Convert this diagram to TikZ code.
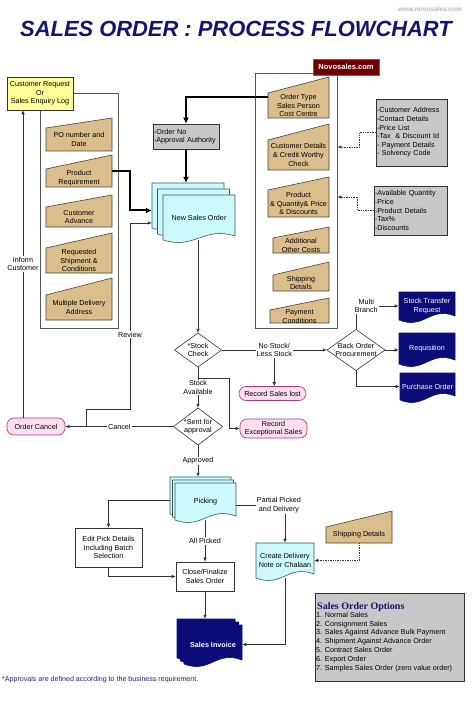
\documentclass[tikz,border=0pt]{standalone}
\usepackage{fontspec}
\setmainfont{Liberation Sans}
\newfontfamily\optfont{Liberation Serif}
\usetikzlibrary{arrows.meta,calc}

\definecolor{titlec}{HTML}{14146E}
\definecolor{linec}{HTML}{333333}
\definecolor{grpline}{HTML}{555555}
\definecolor{trapc}{HTML}{DCBE8C}
\definecolor{trapline}{HTML}{4A4238}
\definecolor{cyanc}{HTML}{CCFAFA}
\definecolor{cyanline}{HTML}{3A5560}
\definecolor{navyc}{HTML}{0C0C78}
\definecolor{pinkc}{HTML}{FFDDF0}
\definecolor{pinkline}{HTML}{A0406A}
\definecolor{grayc}{HTML}{C8C8C8}
\definecolor{yellc}{HTML}{FFFF99}
\definecolor{novoc}{HTML}{6E0000}
\definecolor{notec}{HTML}{202070}

\tikzset{
  txt/.style={font=\fontsize{7.2}{8.6}\selectfont, align=center, inner sep=1pt, text=black},
  shapebox/.style 2 args={minimum width={#1}, minimum height={#2}, inner sep=0pt},
  flowbox/.style={txt, draw=linec, line width=0.6pt},
  grp/.style={draw=grpline, line width=0.8pt, fill=white},
  mantrap/.style={fill=trapc, draw=trapline, line width=0.6pt},
  dmd/.style={fill=white, draw=linec, line width=0.6pt},
  pill/.style={txt, draw=pinkline, fill=pinkc, rounded corners=7pt, line width=0.6pt},
  cyandoc/.style={fill=cyanc, draw=cyanline, line width=0.6pt},
  navydoc/.style={fill=navyc, draw=navyc, line width=0.6pt, text=white},
  lbl/.style={txt, fill=white},
  arr/.style={draw=linec, line width=0.6pt, -{Latex[length=4pt,width=3.5pt]}},
  tarr/.style={draw=black, line width=2pt, -{Latex[length=6pt,width=6pt]}},
  darr/.style={draw=linec, densely dotted, line width=0.7pt, -{Latex[length=4pt,width=3.5pt]}}
}

\newcommand\docpath[5]{\filldraw[#1] ({#2},{#3}) -- ({#4},{#3}) -- ({#4},{#5-4}) .. controls ({#4-0.45*(#4-(#2))},{#5-14}) and ({#2+0.45*(#4-(#2))},{#5+10}) .. ({#2},{#5}) -- cycle;}
\newcommand\docnode[7]{%
  \docpath{#6}{#2}{#3}{#4}{#5}
  \node[txt, #6, draw=none, fill=none, shapebox={#4-(#2)}{#5-(#3)}] (#1) at ({(#2+#4)/2},{(#3+#5)/2}) {#7};}
\newcommand\mdoc[9]{%
  \docpath{#8}{(#2-2*#6)}{(#3-2*#7)}{(#4-2*#6)}{(#5-2*#7)}
  \docpath{#8}{(#2-#6)}{(#3-#7)}{(#4-#6)}{(#5-#7)}
  \docpath{#8}{#2}{#3}{#4}{#5}
  \node[shapebox={#4-(#2)}{#5-(#3)}] (#1b) at ({(#2+#4)/2-2*#6},{(#3+#5)/2-2*#7}) {};
  \node[txt, #8, draw=none, fill=none, shapebox={#4-(#2)}{#5-(#3)}] (#1) at ({(#2+#4)/2},{(#3+#5)/2}) {#9};}
\newcommand\manin[7]{%
  \filldraw[mantrap] ({#2},{#5}) -- ({#3},{#4}) -- ({#3},{#6}) -- ({#2},{#6}) -- cycle;
  \node[shapebox={#3-(#2)}{#6-(#4)}] (#1) at ({(#2+#3)/2},{(#4+#6)/2}) {};
  \node[txt] (#1t) at ({(#2+#3)/2},{(#5+#6)/2}) {#7};}
\newcommand\decide[6]{%
  \filldraw[dmd] ({#2-#4/2},{#3}) -- ({#2},{#3-#5/2}) -- ({#2+#4/2},{#3}) -- ({#2},{#3+#5/2}) -- cycle;
  \node[txt, shapebox={#4}{#5}] (#1) at ({#2},{#3}) {#6};}

\begin{document}
\begin{tikzpicture}[x=1pt,y=-1pt]
\useasboundingbox (0,0) rectangle (474,711);
\fill[white] (0,0) rectangle (474,711);

\node[anchor=base, font=\fontsize{21.9}{26}\selectfont\bfseries\itshape, text=titlec, inner sep=0pt] (title) at (236,37) {SALES ORDER : PROCESS FLOWCHART};
\node[font=\fontsize{6.5}{7}\selectfont\bfseries\itshape, text=gray!55, inner sep=0pt] (www) at (430,9) {www.novosales.com};

\node[grp, shapebox={78}{235}] (lgrp) at (79,210.5) {};
\node[grp, shapebox={82}{255}] (rgrp) at (296,200.5) {};
\node[flowbox, fill=yellc, shapebox={66}{33}] (custreq) at (40,93.5) {Customer Request\\Or\\Sales Enquiry Log};
\node[txt, fill=novoc, draw=black!60, text=white, font=\fontsize{7.5}{9}\selectfont\bfseries, shapebox={66}{16}] (novo) at (346,67) {Novosales.com};

\manin{po}{46}{112}{118}{128}{151}{PO number and\\Date}
\manin{prodreq}{46}{112}{155}{169}{187}{Product\\Requirement}
\manin{custadv}{46}{112}{195}{207}{227}{Customer\\Advance}
\manin{reqship}{46}{112}{233}{248}{273}{Requested\\Shipment \&\\Conditions}
\manin{multidel}{46}{112}{278}{295}{320}{Multiple Delivery\\Address}

\manin{ordtype}{268}{329}{77}{93}{118}{Order Type\\Sales Person\\Cost Centre}
\manin{custdet}{268}{329}{124}{140}{170}{Customer Details\\\& Credit Worthy\\Check}
\manin{prodqty}{268}{329}{177}{190}{217}{Product\\\& Quantity\& Price\\\& Discounts}
\manin{addcost}{273}{329}{227}{238}{253}{Additional\\Other Costs}
\manin{shipdet}{273}{329}{262}{275}{291}{Shipping\\Details}
\manin{paycond}{270}{329}{298}{310}{323}{Payment\\Conditions}
\manin{shipd}{326}{392}{511}{527}{543}{Shipping Details}

\node[flowbox, fill=grayc, shapebox={66}{25}, align=left, text width=64pt] (ordno) at (186,136.5) {-Order No\\-Approval Authority};
\node[flowbox, fill=grayc, shapebox={71}{67}, align=left, text width=69pt] (info1) at (411.5,132.5) {-Customer Address\\-Contact Details\\-Price List\\-Tax \ \& Discount Id\\- Payment Details\\- Solvency Code};
\node[flowbox, fill=grayc, shapebox={73}{49}, align=left, text width=71pt] (info2) at (410.5,210.5) {-Available Quantity\\-Price\\-Product Details\\-Tax\%\\-Discounts};

\mdoc{nso}{163}{195}{235}{240}{5.5}{6}{cyandoc}{New Sales Order}
\mdoc{pick}{175}{483}{236}{520}{2.5}{3}{cyandoc}{Picking}
\mdoc{sinv}{184}{625}{242}{664}{3.5}{3}{navydoc}{\bfseries Sales Invoice}
\docnode{dlv}{256}{543}{314}{578}{cyandoc}{Create Delivery\\Note or Chalaan}
\docnode{stocktr}{399}{292}{455}{320}{navydoc}{Stock Transfer\\Request}
\docnode{requis}{399}{333}{455}{364}{navydoc}{Requisition}
\docnode{purch}{400}{373}{455}{400}{navydoc}{Purchase Order}

\decide{stock}{198}{350}{47}{34}{*Stock\\Check}
\decide{sent}{198}{426.5}{49}{37}{*Sent for\\approval}
\decide{back}{356}{350}{58}{41}{Back Order\\Procurement}

\node[pill, shapebox={58}{17}] (ocancel) at (36,426.5) {Order Cancel};
\node[pill, shapebox={67}{14}] (saleslost) at (272.5,393.5) {Record Sales lost};
\node[pill, shapebox={67}{19}] (excsales) at (273.5,428.5) {Record\\Exceptional Sales};

\node[flowbox, fill=white, shapebox={67}{39}] (edit) at (108.5,547.5) {Edit Pick Details\\Including Batch\\Selection};
\node[flowbox, fill=white, shapebox={58}{29}] (close) at (205,576.5) {Close/Finalize\\Sales Order};

\node[flowbox, fill=grayc, shapebox={149}{88}] (opts) at (389.5,637) {};
\node[anchor=base west, font=\optfont\fontsize{10}{12}\selectfont\bfseries, text=titlec, inner sep=0pt] (optt) at (317,609.5) {Sales Order Options};
\foreach \t [count=\i] in {{Normal Sales},{Consignment Sales},{Sales Against Advance Bulk Payment},{Shipment Against Advance Order},{Contract Sales Order},{Export Order},{Samples Sales Order (zero value order)}}
  \node[txt, anchor=base west, inner sep=0pt] (opt\i) at (316,{608.5+\i*8.8}) {\i. \t};

\node[anchor=base west, font=\fontsize{7.1}{8}\selectfont, text=notec, inner sep=0pt] (note) at (2,681.5) {*Approvals are defined according to the business requirement.};

\draw[tarr] (ordtype.west) -| (ordno.north);
\draw[tarr] (ordno.south) -- (ordno.south |- nsob.north);
\draw[tarr] (prodreq.east) -- ++(18,0) |- ([yshift=-5pt]nsob.west);

\draw[darr] (info1.west) -- ++(-16,0) |- (rgrp.east |- custdet);
\draw[darr] (info2.west) -- ++(-16,0) |- (rgrp.east |- prodqty);

\coordinate (rv) at (86,426.5);
\draw[arr] (rv) -- ++(0,-17.5) -- ++(44,0) |- ([yshift=-17.5pt]nsob.west) node[lbl, pos=0.2] {Review};
\draw[arr] ([xshift=-13pt]ocancel.north) -- ([xshift=-13pt]ocancel.north |- custreq.south) node[lbl, midway] {Inform\\Customer};

\draw[arr] (stock.north |- nso.south) -- (stock.north);
\draw[arr] (stock.east) -- (back.west) node[lbl, midway] (nostock) {No Stock/\\Less Stock};
\draw[arr] (nostock.south) -- (nostock.south |- saleslost.north);
\draw[arr] (stock.south) -- (sent.north) node[lbl, midway] {Stock\\Available};
\draw[arr] (stock.south) -- ++(0,11) -- ++(31,0) |- (excsales.west);
\draw[arr] (sent.west) -- (ocancel.east) node[lbl, midway] {Cancel};
\draw[arr] (sent.south) -- (sent.south |- pickb.north) node[lbl, midway] {Approved};

\draw[arr] (back.north) |- (stocktr.west) node[lbl, pos=0.62] {Multi\\Branch};
\draw[arr] (back.east) -- (back.east -| requis.west);
\draw[arr] (back.south) |- (purch.west);

\draw[arr] ([yshift=-4.5pt]pickb.west) -| (edit.north);
\draw[arr] (edit.south) |- (close.west);
\draw[arr] (close.north |- pick.south) -- (close.north) node[lbl, midway] {All Picked};
\node[lbl] (partial) at (279,505) {Partial Picked\\and Delivery};
\draw[linec, line width=0.6pt] (partial.west) -- (partial.west -| pick.east);
\draw[arr] (partial.south -| dlv.north) -- (dlv.north);
\draw[darr] (shipd.south) |- (dlv.east);
\draw[arr] (dlv.south) |- (sinv.east);
\draw[arr] (close.south) -- (close.south |- sinvb.north);
\end{tikzpicture}
\end{document}
